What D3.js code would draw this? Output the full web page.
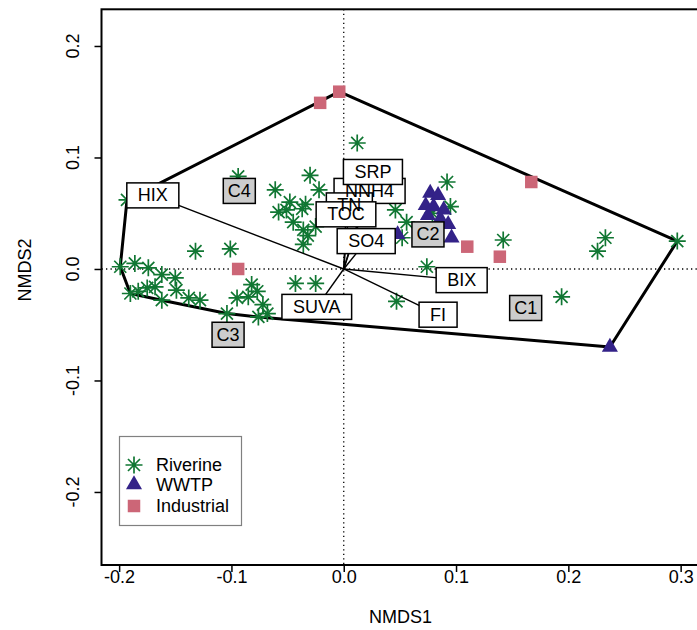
<!DOCTYPE html>
<html><head><meta charset="utf-8">
<script src="https://cdn.jsdelivr.net/npm/d3@7"></script>
<style>
body{margin:0;background:#fff}
svg text{font-family:Arial,"Liberation Sans",Helvetica,sans-serif}
</style>
</head><body>
<svg id="c" width="697" height="630"></svg>
<script>
// ---------------- data ----------------
const xTicks = [-0.2, -0.1, 0.0, 0.1, 0.2, 0.3];
const xTickLabels = ["-0.2", "-0.1", "0.0", "0.1", "0.2", "0.3"];
const yTicks = [-0.2, -0.1, 0.0, 0.1, 0.2];
const yTickLabels = ["-0.2", "-0.1", "0.0", "0.1", "0.2"];

// Riverine sites (NMDS1, NMDS2)
const riverineX = [-0.094,-0.061,-0.193,-0.048,-0.058,-0.045,-0.132,-0.101,-0.199,-0.186,-0.174,-0.162,-0.150,-0.190,-0.175,-0.168,-0.149,-0.162,-0.138,-0.128,-0.082,-0.077,-0.095,-0.085,-0.104,-0.076,-0.068,-0.043,-0.030,-0.022,-0.036,-0.025,-0.036,0.012,0.092,-0.051,-0.037,0.046,0.056,0.052,0.074,-0.025,0.047,0.095,0.079,0.142,0.233,0.226,0.297,0.194,-0.032,-0.183,-0.034,-0.072];
const riverineY = [0.083,0.071,0.062,0.060,0.051,0.042,0.016,0.018,0.002,0.005,0.001,-0.005,-0.008,-0.022,-0.017,-0.016,-0.019,-0.028,-0.026,-0.028,-0.014,-0.020,-0.026,-0.025,-0.040,-0.043,-0.040,-0.013,0.084,0.071,0.035,0.038,0.022,0.113,0.078,0.053,0.054,0.053,0.042,0.028,0.002,-0.013,-0.029,0.056,0.050,0.026,0.028,0.016,0.025,-0.025,0.030,-0.020,0.058,-0.032];

// WWTP sites
const wwtpX = [0.077,0.084,0.073,0.080,0.089,0.093,0.096,0.075,0.048,0.086,0.237];
const wwtpY = [0.068,0.066,0.057,0.056,0.053,0.040,0.028,0.048,0.031,0.045,-0.070];

// Industrial sites
const industrialX = [-0.004,-0.021,0.167,0.110,0.139,-0.094];
const industrialY = [0.159,0.149,0.078,0.020,0.011,0.000];

// Fitted environmental vectors (label positions)
const vectorNames = ["HIX","SUVA","FI","BIX","SO4","NNH4","SRP","TN","TOC"];
const vectorX = [-0.170,-0.024,0.084,0.105,0.020,0.023,0.026,0.005,0.002];
const vectorY = [0.066,-0.034,-0.041,-0.010,0.025,0.070,0.087,0.057,0.049];

// PARAFAC components
const compNames = ["C1","C2","C3","C4"];
const compX = [0.162,0.075,-0.103,-0.093];
const compY = [-0.035,0.031,-0.059,0.070];

const groupNames = ["Riverine","WWTP","Industrial"];
const groupColors = ["#117733","#332288","#CC6677"];

// ---------------- drawing ----------------
const svg = d3.select("#c");
const x = d3.scaleLinear().domain([-0.2157, 0.3167]).range([101.5, 699.4]);
const y = d3.scaleLinear().domain([-0.2655, 0.2329]).range([565, 9.3]);
const [x0, x1] = x.range();
const [y0, y1] = [y.range()[1], y.range()[0]];

svg.append("defs").append("clipPath").attr("id","clip")
  .append("rect").attr("x",x0).attr("y",y0).attr("width",x1-x0).attr("height",y1-y0);
const g = svg.append("g").attr("clip-path","url(#clip)");

// zero lines
g.append("line").attr("x1",x(0)).attr("x2",x(0)).attr("y1",y0).attr("y2",y1)
  .attr("stroke","#000").attr("stroke-width",1.3).attr("stroke-dasharray","1.3,3.2");
g.append("line").attr("x1",x0).attr("x2",x1).attr("y1",y(0)).attr("y2",y(0))
  .attr("stroke","#000").attr("stroke-width",1.3).attr("stroke-dasharray","1.3,3.2");

const riv = riverineX.map((v,i)=>[v, riverineY[i]]);
const ww = wwtpX.map((v,i)=>[v, wwtpY[i]]);
const ind = industrialX.map((v,i)=>[v, industrialY[i]]);

// hull around all sites
const hull = d3.polygonHull([...riv, ...ww, ...ind].map(d=>[x(d[0]), y(d[1])]));
g.append("path").attr("d", d3.line()(hull) + "Z")
  .attr("fill","none").attr("stroke","#000").attr("stroke-width",3).attr("stroke-linejoin","round");

// symbols
const arm = 8.5, dg = arm/Math.SQRT2;
const starPath = `M${-arm},0L${arm},0M0,${-arm}L0,${arm}M${-dg},${-dg}L${dg},${dg}M${-dg},${dg}L${dg},${-dg}`;
const triPath = d3.symbol(d3.symbolTriangle, 112)();
const sq = 12.5;

g.selectAll(".riv").data(riv).join("path").attr("class","riv")
  .attr("transform", d=>`translate(${x(d[0])},${y(d[1])})`)
  .attr("d", starPath).attr("fill","none").attr("stroke",groupColors[0]).attr("stroke-width",1.7);
g.selectAll(".ind").data(ind).join("rect").attr("class","ind")
  .attr("x", d=>x(d[0])-sq/2).attr("y", d=>y(d[1])-sq/2).attr("width",sq).attr("height",sq)
  .attr("fill",groupColors[2]);
g.selectAll(".ww").data(ww).join("path").attr("class","ww")
  .attr("transform", d=>`translate(${x(d[0])},${y(d[1])})`)
  .attr("d", triPath).attr("fill",groupColors[1]);

// vectors
const vecs = vectorNames.map((n,i)=>({name:n, vx:vectorX[i], vy:vectorY[i]}));
g.selectAll(".vec").data(vecs).join("line").attr("class","vec")
  .attr("x1",x(0)).attr("y1",y(0)).attr("x2",d=>x(d.vx)).attr("y2",d=>y(d.vy))
  .attr("stroke","#000").attr("stroke-width",1.4);

const fs = 18, bh = 25;
function labelBoxes(data, fill, pad){
  const grp = g.append("g");
  const boxes = grp.append("g"), texts = grp.append("g");
  data.forEach(d=>{
    const t = texts.append("text").attr("x",x(d.vx)).attr("y",y(d.vy))
      .attr("text-anchor","middle").attr("dominant-baseline","central")
      .attr("font-size",fs).attr("fill","#000").text(d.name);
    const w = t.node().getComputedTextLength() + pad;
    boxes.append("rect").attr("x",x(d.vx)-w/2).attr("y",y(d.vy)-bh/2)
      .attr("width",w).attr("height",bh).attr("fill",fill)
      .attr("stroke","#000").attr("stroke-width",1.5);
  });
}
labelBoxes(vecs, "#fff", 22);
labelBoxes(compNames.map((n,i)=>({name:n, vx:compX[i], vy:compY[i]})), "#cccccc", 9);

// plot frame
svg.append("rect").attr("x",x0).attr("y",y0).attr("width",x1-x0).attr("height",y1-y0)
  .attr("fill","none").attr("stroke","#000").attr("stroke-width",2);

// axes
const ax = svg.append("g").attr("transform",`translate(0,${y1})`)
  .call(d3.axisBottom(x).tickValues(xTicks).tickFormat((d,i)=>xTickLabels[i]).tickSize(7).tickPadding(-1.5));
ax.select(".domain").remove();
ax.selectAll("line").attr("stroke-width",1.5);
ax.selectAll("text").attr("font-size",fs).attr("font-family","Arial, Liberation Sans, sans-serif");

const ay = svg.append("g").attr("transform",`translate(${x0},0)`)
  .call(d3.axisLeft(y).tickValues(yTicks).tickFormat("").tickSize(7));
ay.select(".domain").remove();
ay.selectAll("line").attr("stroke-width",1.5);
svg.selectAll(".ylab").data(yTicks).join("text").attr("class","ylab")
  .attr("transform",(d)=>`translate(73,${y(d)}) rotate(-90)`)
  .attr("text-anchor","middle").attr("dominant-baseline","central")
  .attr("font-size",fs).text((d,i)=>yTickLabels[i]);

svg.append("text").attr("x",(x0+x1)/2).attr("y",617).attr("text-anchor","middle")
  .attr("dominant-baseline","central").attr("font-size",fs).text("NMDS1");
svg.append("text").attr("transform",`translate(25,270) rotate(-90)`).attr("text-anchor","middle")
  .attr("dominant-baseline","central").attr("font-size",fs).text("NMDS2");

// legend
const lg = svg.append("g");
lg.append("rect").attr("x",119.5).attr("y",436.5).attr("width",122).attr("height",89)
  .attr("fill","#fff").attr("stroke","#808080").attr("stroke-width",1.2);
const ly = [465, 484.5, 506];
groupNames.forEach((n,i)=>{
  const sy = ly[i];
  if(i===0) lg.append("path").attr("transform",`translate(134,${sy})`).attr("d",starPath)
      .attr("fill","none").attr("stroke",groupColors[0]).attr("stroke-width",1.7);
  if(i===1) lg.append("path").attr("transform",`translate(134,${sy})`).attr("d",triPath).attr("fill",groupColors[1]);
  if(i===2) lg.append("rect").attr("x",134-sq/2).attr("y",sy-sq/2).attr("width",sq).attr("height",sq).attr("fill",groupColors[2]);
  lg.append("text").attr("x",156).attr("y",sy).attr("dominant-baseline","central")
    .attr("font-size",fs).text(n);
});
</script>
</body></html>
